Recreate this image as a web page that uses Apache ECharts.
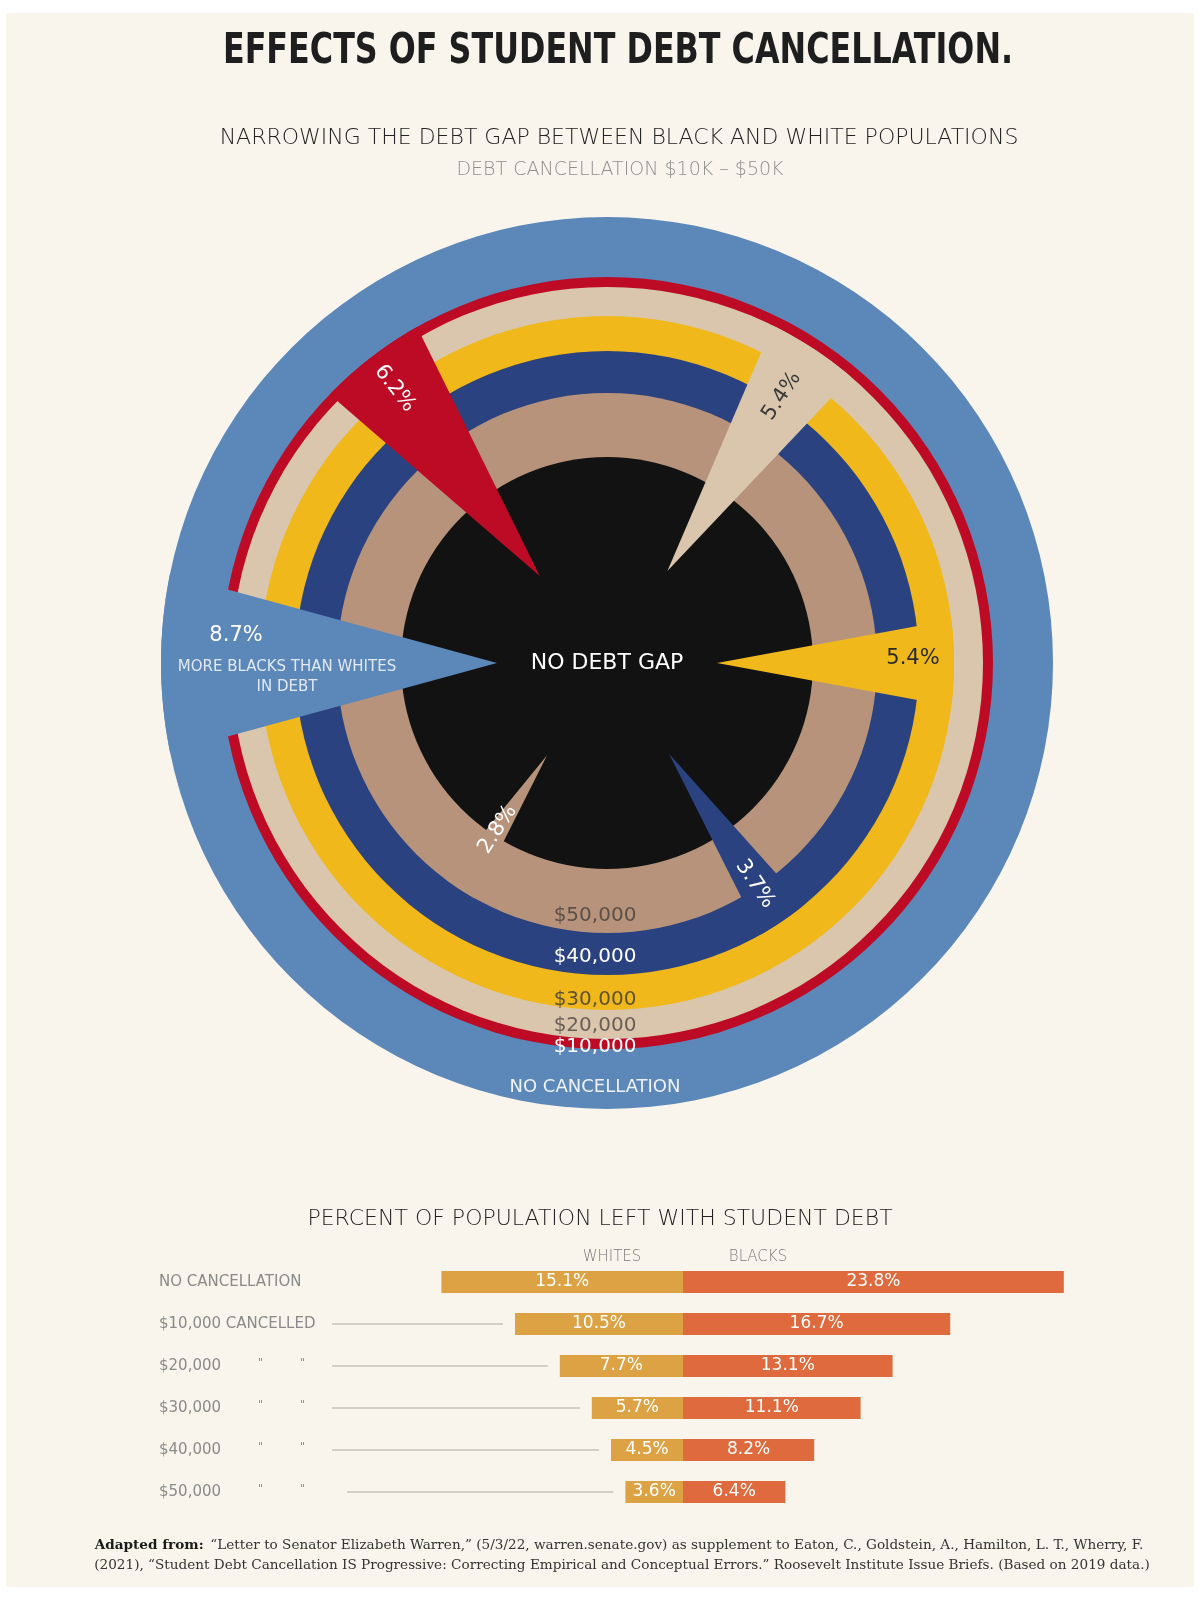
<!DOCTYPE html>
<html><head><meta charset="utf-8">
<script src="https://cdn.jsdelivr.net/npm/echarts@6/dist/echarts.min.js"></script>
<style>html,body{margin:0;padding:0;background:#ffffff}#c{width:1200px;height:1600px}</style>
</head><body><div id="c"></div>
<script>
// ---------------- DATA ----------------
const scenarios = ['NO CANCELLATION', '$10,000 CANCELLED', '$20,000', '$30,000', '$40,000', '$50,000'];
const ringLabels = ['NO CANCELLATION', '$10,000', '$20,000', '$30,000', '$40,000', '$50,000'];
const whitesPct = [15.1, 10.5, 7.7, 5.7, 4.5, 3.6];
const blacksPct = [23.8, 16.7, 13.1, 11.1, 8.2, 6.4];
const gapPct = [8.7, 6.2, 5.4, 5.4, 3.7, 2.8];
const centerLabel = 'NO DEBT GAP';
const gapNote = 'MORE BLACKS THAN WHITES\nIN DEBT';

// ---------------- LAYOUT / STYLE ----------------
const FONT = "'DejaVu Sans', sans-serif";
const ringOuter = [446, 386, 376, 347, 312, 270];
const coreR = 206;
const apexR = 110;
const wedgeDir = [180, 127.7, 56.7, 0, 304.3, 237];
const degPerPct = 2.65;
const gapLabelR = [372, 347, 319, 306, 266, 199];
const gapLabelDir = [175.7, 127.7, 56.8, 0.9, 303.8, 236.7];
const ringLabelR = [424, 384, 363, 337, 294, 253];
const ringColors = ['#5B87B9', '#BD0A25', '#D9C6AD', '#F0B81A', '#2A4280', '#B6937A'];
const coreColor = '#121212';
const gapLabelColors = ['#ffffff', '#ffffff', '#3a3a3a', '#2a2a2a', '#ffffff', '#ffffff'];
const ringLabelColors = ['#eef2f8', '#ffffff', '#6a5f57', '#5e5230', '#ffffff', '#5d5048'];
const leaderStart = [null, 332, 332, 332, 332, 347];

const chart = echarts.init(document.getElementById('c'), null, {width: 1200, height: 1600, renderer: 'canvas'});

function rotFor(dir) { return (((dir + 90) % 180) + 180) % 180 - 90; }

const option = {
  animation: false,
  backgroundColor: '#ffffff',
  polar: {center: [607, 663], radius: 446},
  angleAxis: {type: 'value', min: 0, max: 360, startAngle: 0, clockwise: false, show: false},
  radiusAxis: {type: 'value', min: 0, max: 446, show: false},
  grid: {left: 363, top: 1261, width: 720, height: 252},
  xAxis: {type: 'value', min: -20, max: 25, show: false},
  yAxis: {
    type: 'category', data: scenarios, inverse: true,
    axisLine: {show: false}, axisTick: {show: false}, splitLine: {show: false},
    axisLabel: {
      align: 'left', margin: 204,
      formatter: (v, i) => i >= 2 ? '{a|' + v + '}{d|"}{d|"}' : '{t|' + v + '}',
      rich: {
        t: {fontSize: 15, color: '#8a8a8a', fontFamily: FONT},
        a: {fontSize: 15, color: '#8a8a8a', fontFamily: FONT, width: 99},
        d: {fontSize: 11, color: '#8a8a8a', fontFamily: FONT, width: 42, padding: [0, 0, 6, 0]}
      }
    }
  },
  graphic: [
    {type: 'rect', z: -10, shape: {x: 6, y: 13, width: 1188, height: 1574}, style: {fill: '#F9F5EC'}},
    {type: 'text', x: 618, y: 52, scaleX: 0.757, z: 10,
      style: {text: 'EFFECTS OF STUDENT DEBT CANCELLATION.', fontSize: 42, fontWeight: 'bold', fontFamily: FONT,
        fill: '#1e1e1e', textAlign: 'center', textVerticalAlign: 'middle'}},
    {type: 'text', x: 619, y: 138, z: 10,
      style: {text: 'NARROWING THE DEBT GAP BETWEEN BLACK AND WHITE POPULATIONS', fontSize: 22, fontWeight: 200,
        fontFamily: FONT, fill: '#222222', textAlign: 'center', textVerticalAlign: 'middle'}},
    {type: 'text', x: 620, y: 170, z: 10,
      style: {text: 'DEBT CANCELLATION $10K \u2013 $50K', fontSize: 19, fontWeight: 200,
        fontFamily: FONT, fill: '#8f8f8f', textAlign: 'center', textVerticalAlign: 'middle'}},
    {type: 'text', x: 600, y: 1219, z: 10,
      style: {text: 'PERCENT OF POPULATION LEFT WITH STUDENT DEBT', fontSize: 22, fontWeight: 200,
        fontFamily: FONT, fill: '#222222', textAlign: 'center', textVerticalAlign: 'middle'}},
    {type: 'text', x: 612, y: 1257, z: 10,
      style: {text: 'WHITES', fontSize: 15, fontWeight: 200, fontFamily: FONT, fill: '#7a7a7a',
        textAlign: 'center', textVerticalAlign: 'middle'}},
    {type: 'text', x: 758, y: 1257, z: 10,
      style: {text: 'BLACKS', fontSize: 15, fontWeight: 200, fontFamily: FONT, fill: '#7a7a7a',
        textAlign: 'center', textVerticalAlign: 'middle'}},
    {type: 'text', x: 619, y: 1545, z: 10,
      style: {text: '{b|Adapted from:}  {n|\u201cLetter to Senator Elizabeth Warren,\u201d (5/3/22, warren.senate.gov) as supplement to Eaton, C., Goldstein, A., Hamilton, L. T., Wherry, F.}',
        rich: {b: {fontSize: 13.6, fontWeight: 'bold', fontFamily: "'DejaVu Serif', serif", fill: '#1a1a1a'},
               n: {fontSize: 13.6, fontFamily: "'DejaVu Serif', serif", fill: '#333333'}},
        textAlign: 'center', textVerticalAlign: 'middle'}},
    {type: 'text', x: 622, y: 1565, z: 10,
      style: {text: '(2021), \u201cStudent Debt Cancellation IS Progressive: Correcting Empirical and Conceptual Errors.\u201d Roosevelt Institute Issue Briefs. (Based on 2019 data.)',
        fontSize: 13.6, fontFamily: "'DejaVu Serif', serif", fill: '#333333',
        textAlign: 'center', textVerticalAlign: 'middle'}}
  ],
  series: [
    {
      type: 'custom', coordinateSystem: 'polar', z: 1, silent: true,
      data: ringOuter.concat([coreR]).map(r => [r, 0]),
      renderItem: (params, api) => {
        const i = params.dataIndex;
        const c = api.coord([0, 0]);
        const p = api.coord([api.value(0), 0]);
        const r = Math.hypot(p[0] - c[0], p[1] - c[1]);
        return {type: 'circle', shape: {cx: c[0], cy: c[1], r: r},
          style: {fill: i < ringColors.length ? ringColors[i] : coreColor}};
      }
    },
    {
      type: 'custom', coordinateSystem: 'polar', z: 2, silent: true,
      data: gapPct.map((g, i) => [ringOuter[i], wedgeDir[i], g]),
      renderItem: (params, api) => {
        const i = params.dataIndex;
        const R = api.value(0), dir = api.value(1), g = api.value(2);
        const half = g * degPerPct / 2;
        const pts = [api.coord([apexR, dir])];
        const N = 16;
        for (let k = 0; k <= N; k++) pts.push(api.coord([R, dir - half + 2 * half * k / N]));
        const lp = api.coord([gapLabelR[i], gapLabelDir[i]]);
        const children = [
          {type: 'polygon', shape: {points: pts}, style: {fill: ringColors[i]}},
          {type: 'text', x: lp[0], y: lp[1], rotation: rotFor(wedgeDir[i]) * Math.PI / 180, z2: 5,
            style: {text: g.toFixed(1) + '%', fontSize: 21, fontFamily: FONT, fill: gapLabelColors[i],
              textAlign: 'center', textVerticalAlign: 'middle'}}
        ];
        if (i === 0) {
          const np = api.coord([320.3, 182.5]);
          children.push({type: 'text', x: np[0], y: np[1], z2: 5,
            style: {text: gapNote, fontSize: 15, lineHeight: 20, fontFamily: FONT, fill: '#e3e9f3',
              textAlign: 'center', textVerticalAlign: 'middle'}});
        }
        return {type: 'group', children: children};
      }
    },
    {
      type: 'custom', coordinateSystem: 'polar', z: 3, silent: true,
      data: ringLabelR.map(r => [r, 270]).concat([[0, 0]]),
      renderItem: (params, api) => {
        const i = params.dataIndex;
        const p = api.coord([api.value(0), api.value(1)]);
        if (i === ringLabels.length) {
          return {type: 'text', x: p[0], y: p[1],
            style: {text: centerLabel, fontSize: 22, fontFamily: FONT, fill: '#ffffff',
              textAlign: 'center', textVerticalAlign: 'middle'}};
        }
        return {type: 'text', x: p[0] - 12, y: p[1],
          style: {text: ringLabels[i], fontSize: i === 0 ? 18 : 20, fontFamily: FONT, fill: ringLabelColors[i],
            textAlign: 'center', textVerticalAlign: 'middle'}};
      }
    },
    {
      type: 'custom', coordinateSystem: 'cartesian2d', z: 1, silent: true,
      data: whitesPct.map((v, i) => [-v, i]),
      encode: {x: 0, y: 1},
      renderItem: (params, api) => {
        const i = params.dataIndex;
        if (leaderStart[i] == null) return null;
        const p = api.coord([api.value(0), api.value(1)]);
        return {type: 'line', shape: {x1: leaderStart[i], y1: p[1], x2: p[0] - 12, y2: p[1]},
          style: {stroke: '#d3cfc7', lineWidth: 2}};
      }
    },
    {
      type: 'bar', name: 'WHITES', stack: 'pop', barWidth: 22,
      data: whitesPct.map(v => -v),
      itemStyle: {color: '#DCA244'},
      label: {show: true, position: 'inside', formatter: p => Math.abs(p.value) + '%', color: '#ffffff',
        fontSize: 17, fontFamily: FONT}
    },
    {
      type: 'bar', name: 'BLACKS', stack: 'pop', barWidth: 22,
      data: blacksPct,
      itemStyle: {color: '#DE6A3D'},
      label: {show: true, position: 'inside', formatter: p => p.value + '%', color: '#ffffff',
        fontSize: 17, fontFamily: FONT}
    }
  ]
};
chart.setOption(option);
</script>
</body></html>
